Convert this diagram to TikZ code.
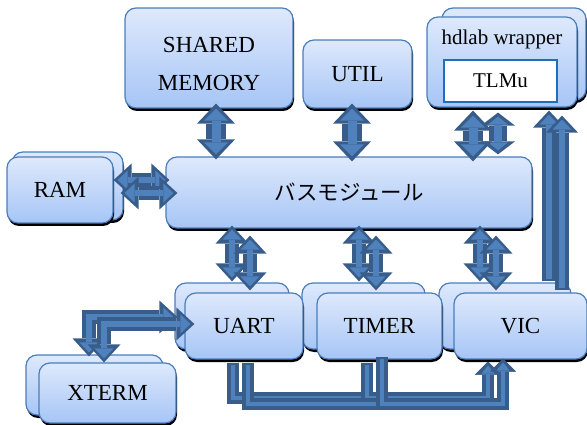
\documentclass[tikz,border=0pt]{standalone}
\usepackage{fontspec}
\setmainfont{Liberation Serif}
\newfontfamily\jpfont{Noto Sans CJK JP}
\usetikzlibrary{arrows.meta,shadows,positioning}
\definecolor{btop}{RGB}{222,233,252}
\definecolor{bbot}{RGB}{166,197,246}
\definecolor{bline}{RGB}{74,126,187}
\definecolor{adark}{RGB}{56,93,138}
\definecolor{amid}{RGB}{79,129,189}
\definecolor{tline}{RGB}{31,110,190}

\begin{document}
\begin{tikzpicture}[x=1pt, y=-1pt,
    box/.style={draw=bline, line width=1.2pt, rounded corners=11pt,
                top color=btop, bottom color=bbot, inner sep=0pt,
                drop shadow={shadow xshift=1pt, shadow yshift=-3pt, fill=black, opacity=1},
                font=\fontsize{23}{38}\selectfont, align=center},
    dbig/.style={draw=amid, line width=9pt, shorten <=5pt, shorten >=5pt,
                 arrows={Triangle[width=24pt,length=12pt,line width=0pt]-Triangle[width=24pt,length=12pt,line width=0pt]},
                 preaction={draw=adark, line width=20pt, shorten <=0pt, shorten >=0pt,
                   arrows={Triangle[width=38pt,length=20pt,line width=0pt]-Triangle[width=38pt,length=20pt,line width=0pt]}}},
    dshort/.style={draw=amid, line width=8pt, shorten <=4pt, shorten >=4pt,
                 arrows={Triangle[width=20pt,length=8pt,line width=0pt]-Triangle[width=20pt,length=8pt,line width=0pt]},
                 preaction={draw=adark, line width=18pt, shorten <=0pt, shorten >=0pt,
                   arrows={Triangle[width=34pt,length=13pt,line width=0pt]-Triangle[width=34pt,length=13pt,line width=0pt]}}},
    dmid/.style={draw=amid, line width=6pt, shorten <=4pt, shorten >=4pt,
                 arrows={Triangle[width=19pt,length=10pt,line width=0pt]-Triangle[width=19pt,length=10pt,line width=0pt]},
                 preaction={draw=adark, line width=14pt, shorten <=0pt, shorten >=0pt,
                   arrows={Triangle[width=33pt,length=18pt,line width=0pt]-Triangle[width=33pt,length=18pt,line width=0pt]}}},
    umid/.style={draw=amid, line width=6pt, shorten <=2pt, shorten >=4pt,
                 arrows={-Triangle[width=19pt,length=10pt,line width=0pt]},
                 preaction={draw=adark, line width=14pt, shorten <=0pt, shorten >=0pt,
                   arrows={-Triangle[width=32pt,length=17pt,line width=0pt]}}},
    usmall/.style={draw=amid, line width=4pt, shorten <=2pt, shorten >=4pt,
                 arrows={-Triangle[width=13pt,length=8pt,line width=0pt]},
                 preaction={draw=adark, line width=12pt, shorten <=0pt, shorten >=0pt,
                   arrows={-Triangle[width=26pt,length=13pt,line width=0pt]}}},
  ]
  \useasboundingbox (0,0) rectangle (587,425);

  % back copies
  \node[box, minimum width=144pt, minimum height=92pt] (hdlabb) at (514,54) {};
  \node[box, minimum width=111pt, minimum height=68pt] (ramb) at (67.5,186) {};
  \node[box, minimum width=114pt, minimum height=66pt] (uartb) at (232,316) {};
  \node[box, minimum width=123pt, minimum height=66pt] (timerb) at (363.5,316) {};
  \node[box, minimum width=132pt, minimum height=66pt] (vicb) at (505,316) {};
  \node[box, minimum width=137pt, minimum height=60pt] (xtermb) at (94.5,385) {};

  % blocks
  \node[box, minimum width=168pt, minimum height=100pt] (shm) at (209,58) {};
  \node[font=\fontsize{23}{38}\selectfont, align=center] (shmtxt) at (209,64) {SHARED\\MEMORY};
  \node[box, minimum width=109pt, minimum height=68pt] (util) at (357.5,74) {UTIL};
  \node[box, minimum width=150pt, minimum height=90pt] (hdlab) at (502,62) {};
  \node[font=\fontsize{21}{25}\selectfont] (hdlabtxt) at ([yshift=-23pt]hdlab.north) {hdlab wrapper};
  \node[draw=tline, line width=1.5pt, fill=white, minimum width=113pt, minimum height=42pt,
        font=\fontsize{21}{25}\selectfont] (tlmu) at (500.5,81) {TLMu};
  \node[box, minimum width=366pt, minimum height=71pt] (bus) at (349,192.5)
        {\jpfont\fontsize{21.5}{25}\selectfont バスモジュール};
  \node[box, minimum width=106pt, minimum height=66pt] (ram) at (60,190) {RAM};
  \node[box, minimum width=118pt, minimum height=66pt] (uart) at (244,326) {UART};
  \node[box, minimum width=125pt, minimum height=66pt] (timer) at (379.5,326) {TIMER};
  \node[box, minimum width=133pt, minimum height=66pt] (vic) at (520.5,326) {VIC};
  \node[box, minimum width=137pt, minimum height=60pt] (xterm) at (107.5,393) {XTERM};

  % upper links
  \draw[dbig] ([xshift=7pt,yshift=5pt]shm.south) -- ([xshift=7pt,yshift=-3pt]shm.south |- bus.north);
  \draw[dbig] ([xshift=-5.5pt,yshift=5pt]util.south) -- ([xshift=-5.5pt,yshift=-5pt]util.south |- bus.north);
  \draw[dshort] ([xshift=-16pt,yshift=-12pt]hdlabb.south) -- ([xshift=-16pt,yshift=2pt]hdlabb.south |- bus.north);
  \draw[dbig] ([xshift=-29pt,yshift=-3pt]hdlab.south) -- ([xshift=-29pt,yshift=-5pt]hdlab.south |- bus.north);
  \draw[dmid] ([yshift=10pt]ram.east) -- ([xshift=4pt,yshift=12.5pt]bus.west);
  \draw[dmid] ([xshift=7pt,yshift=-3pt]ram.east) -- ([xshift=12pt,yshift=-0.5pt]bus.west);

  % lower links
  \draw[dmid] ([yshift=3pt]uartb.north |- bus.south) -- ([yshift=1pt]uartb.north);
  \draw[dmid] ([xshift=6pt,yshift=-7pt]uart.north |- bus.south) -- ([xshift=6pt,yshift=2pt]uart.north);
  \draw[dmid] ([xshift=-4.5pt,yshift=3pt]timerb.north |- bus.south) -- ([xshift=-4.5pt,yshift=1pt]timerb.north);
  \draw[dmid] ([xshift=-3.5pt,yshift=-7pt]timer.north |- bus.south) -- ([xshift=-3.5pt,yshift=2pt]timer.north);
  \draw[dmid] ([xshift=-25pt,yshift=3pt]vicb.north |- bus.south) -- ([xshift=-25pt,yshift=1pt]vicb.north);
  \draw[dmid] ([xshift=-24.5pt,yshift=-7pt]vic.north |- bus.south) -- ([xshift=-24.5pt,yshift=2pt]vic.north);

  % vic to wrapper
  \draw[umid] ([xshift=44pt,yshift=1pt]vicb.north) -- ([xshift=44pt,yshift=-3pt]vicb.north |- hdlab.south);
  \draw[umid] ([xshift=41.5pt,yshift=2pt]vic.north) -- ([xshift=41.5pt,yshift=-8pt]vic.north |- hdlab.south);

  % xterm
  \draw[dmid] ([xshift=-5.5pt,yshift=-2pt]xtermb.north) |- ([xshift=3pt,yshift=-1pt]uartb.west);
  \draw[dmid] ([xshift=-3.5pt]xterm.north) |- ([xshift=10pt,yshift=2pt]uart.west);

  % irq lines
  \draw[usmall] ([xshift=-11pt,yshift=-3pt]uart.south) -- ++(0,35) -| ([xshift=-32.5pt,yshift=-2pt]vic.south);
  \draw[usmall] ([xshift=-12.5pt,yshift=-3pt]timer.south) -- ++(0,35) -| ([xshift=-32.5pt,yshift=-2pt]vic.south);
  \draw[usmall] ([xshift=4pt,yshift=-3pt]uart.south) -- ++(0,41) -| ([xshift=-17.5pt,yshift=1pt]vic.south);
  \draw[usmall] ([xshift=2.5pt,yshift=3pt]timer.south) -- ++(0,47) -| ([xshift=-17.5pt,yshift=1pt]vic.south);
\end{tikzpicture}
\end{document}
